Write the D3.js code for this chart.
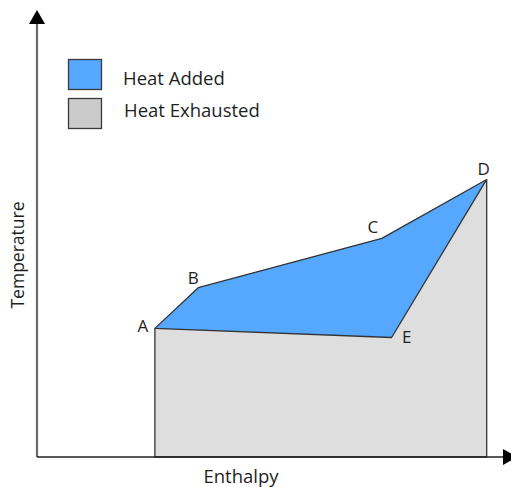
<!DOCTYPE html>
<html><head><meta charset="utf-8">
<script src="https://cdn.jsdelivr.net/npm/d3@7"></script>
<style>body{margin:0;background:#fff}svg{display:block}text{font-family:"Open Sans",sans-serif;fill:#1e1e1e}</style>
</head><body><svg id="c" width="511" height="487"></svg>
<script>
const pointLabels = ["A", "B", "C", "D", "E"];
const enthalpy = [25.3, 34.6, 74.0, 96.5, 76.1];
const temperature = [29.7, 39.1, 50.5, 64.1, 27.6];
const legendLabels = ["Heat Added", "Heat Exhausted"];
const axisTitles = ["Enthalpy", "Temperature"];

const svg = d3.select("#c");
const x = d3.scaleLinear().domain([0, 100]).range([37, 503]);
const y = d3.scaleLinear().domain([0, 100]).range([457, 24]);
const pts = pointLabels.map((l, i) => ({l, x: enthalpy[i], y: temperature[i]}));
const P = Object.fromEntries(pts.map(p => [p.l, p]));
const line = d3.line().x(d => x(d.x)).y(d => y(d.y));

// gray region under A-E-D
const gray = [{x: P.A.x, y: 0}, P.A, P.E, P.D, {x: P.D.x, y: 0}];
svg.append("path").attr("d", line(gray) + "Z").attr("fill", "#dedede").attr("stroke", "none");
svg.append("path").attr("d", line([P.A, {x: P.A.x, y: 0}, {x: P.D.x, y: 0}, P.D]))
  .attr("fill", "none").attr("stroke", "#333").attr("stroke-width", 1.3);

// blue region A-B-C-D-E
svg.append("path").attr("d", line(pts) + "Z").attr("fill", "#55a8fe")
  .attr("stroke", "#333").attr("stroke-width", 1.3).attr("stroke-linejoin", "round");

// axes
svg.append("line").attr("x1", x(0)).attr("y1", y(0)).attr("x2", x(0)).attr("y2", y(100))
  .attr("stroke", "#6a6a6a").attr("stroke-width", 2.2);
svg.append("line").attr("x1", x(0)).attr("y1", y(0)).attr("x2", x(100)).attr("y2", y(0))
  .attr("stroke", "#222").attr("stroke-width", 1.3);
svg.append("path").attr("d", `M${x(0)},${y(100) - 14}L${x(0) - 8},${y(100)}L${x(0) + 8},${y(100)}Z`).attr("fill", "#000");
svg.append("path").attr("d", `M${x(100) + 14},${y(0)}L${x(100)},${y(0) - 8}L${x(100)},${y(0) + 8}Z`).attr("fill", "#000");

// point labels
const off = {A: [-12, 4], B: [-5, -4], C: [-9, -5], D: [-3, -4], E: [15, 6]};
svg.selectAll(".pl").data(pts).join("text").attr("class", "pl")
  .attr("x", d => x(d.x) + off[d.l][0]).attr("y", d => y(d.y) + off[d.l][1])
  .attr("text-anchor", "middle").attr("font-size", 17).text(d => d.l);

// legend
const lg = svg.append("g");
const swFill = ["#55a8fe", "#cbcbcb"];
legendLabels.forEach((t, i) => {
  lg.append("rect").attr("x", 68.5).attr("y", 59.5 + i * 39).attr("width", 33).attr("height", 30)
    .attr("fill", swFill[i]).attr("stroke", "#3a3a3a").attr("stroke-width", 1.3);
  lg.append("text").attr("x", 123 + i).attr("y", 85 + i * 32).attr("font-size", 18.5).text(t);
});

// axis titles
svg.append("text").attr("x", 241).attr("y", 483).attr("text-anchor", "middle").attr("font-size", 18.5).text(axisTitles[0]);
svg.append("text").attr("transform", "translate(24,255) rotate(-90)").attr("text-anchor", "middle").attr("font-size", 17.5).text(axisTitles[1]);
</script></body></html>
